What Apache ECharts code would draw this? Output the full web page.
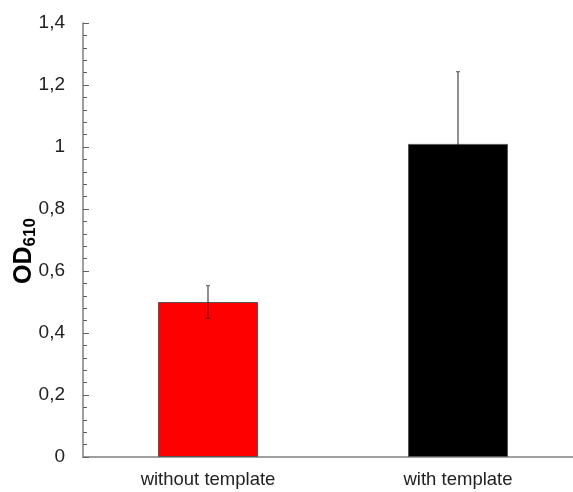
<!DOCTYPE html>
<html><head><meta charset="utf-8">
<script src="https://cdn.jsdelivr.net/npm/echarts@6/dist/echarts.min.js"></script>
<style>html,body{margin:0;padding:0;background:#fff;overflow:hidden}#c{width:583px;height:492px}</style>
</head><body><div id="c"></div>
<script>
const categories = ['without template', 'with template'];
const means = [0.50, 1.01];
const errors = [0.053, 0.233];
const colors = ['#ff0000', '#000000'];
const yTicks = [0, 0.2, 0.4, 0.6, 0.8, 1, 1.2, 1.4];

const chart = echarts.init(document.getElementById('c'));
const font = 'Liberation Sans, Arial, sans-serif';
chart.setOption({
  animation: false,
  grid: { left: 83, right: 0, top: 23, height: 434 },
  xAxis: {
    type: 'category', data: categories,
    axisLine: { lineStyle: { color: '#808080', width: 1.5 } },
    axisTick: { show: false },
    axisLabel: { color: '#222', fontSize: 18.5, fontFamily: font, margin: 13 }
  },
  yAxis: {
    type: 'value', min: 0, max: 1.4, interval: 0.2,
    splitLine: { show: false },
    axisLine: { show: true, lineStyle: { color: '#808080', width: 1.5 } },
    axisTick: { show: true, inside: true, length: 6, lineStyle: { color: '#606060' } },
    minorTick: { show: true, splitNumber: 5, length: 4, lineStyle: { color: '#606060' } },
    axisLabel: { color: '#222', fontSize: 19, fontFamily: font, margin: 18,
      formatter: v => yTicks.includes(+v.toFixed(2)) ? String(+v.toFixed(2)).replace('.', ',') : '' }
  },
  graphic: [{
    type: 'text', x: 24, y: 251, rotation: Math.PI / 2,
    style: {
      text: '{b|OD}{s|610}', align: 'center', verticalAlign: 'middle',
      rich: {
        b: { fontSize: 25, fontWeight: 'bold', fontFamily: font, fill: '#000' },
        s: { fontSize: 17, fontWeight: 'bold', fontFamily: font, fill: '#000', verticalAlign: 'bottom', padding: [12, 0, 0, 0] }
      }
    }
  }],
  series: [{
    type: 'bar', barWidth: 100,
    data: means.map((v, i) => ({ value: v, itemStyle: { color: colors[i], borderColor: '#555', borderWidth: 1 } }))
  }, {
    type: 'custom',
    data: means.map((v, i) => [i, v - errors[i], v + errors[i], v]),
    renderItem: (params, api) => {
      const lo = api.coord([api.value(0), api.value(1)]);
      const hi = api.coord([api.value(0), api.value(2)]);
      const mid = api.coord([api.value(0), api.value(3)]);
      const w = 2;
      return { type: 'group', children: [
        { type: 'line', shape: { x1: mid[0], y1: mid[1], x2: hi[0], y2: hi[1] }, style: { stroke: '#555', lineWidth: 1.3 } },
        { type: 'line', shape: { x1: lo[0], y1: lo[1], x2: mid[0], y2: mid[1] }, style: { stroke: 'rgba(0,0,0,0.45)', lineWidth: 1.3 } },
        { type: 'line', shape: { x1: hi[0] - w, y1: hi[1], x2: hi[0] + w, y2: hi[1] }, style: { stroke: '#777', lineWidth: 1.3 } },
        { type: 'line', shape: { x1: lo[0] - w, y1: lo[1], x2: lo[0] + w, y2: lo[1] }, style: { stroke: 'rgba(0,0,0,0.45)', lineWidth: 1.3 } }
      ] };
    },
    z: 10
  }]
});
</script></body></html>
